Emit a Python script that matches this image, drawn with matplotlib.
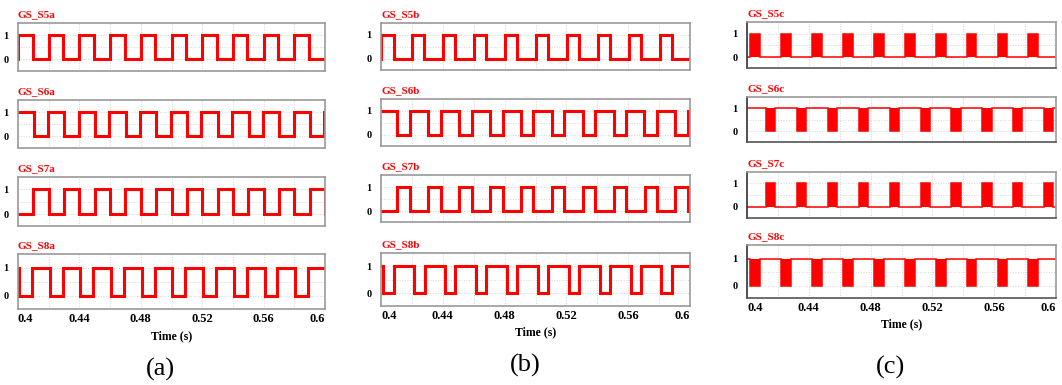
import numpy as np
import matplotlib
matplotlib.use("Agg")
import matplotlib.pyplot as plt

plt.rcParams['font.family'] = ['Liberation Serif', 'DejaVu Serif']

# one switching period every 0.02 s between 0.4 s and 0.6 s
cycle_starts = [0.40, 0.42, 0.44, 0.46, 0.48, 0.50, 0.52, 0.54, 0.56, 0.58, 0.60]

# signal names, idle level and the window (offset from cycle start, s) where the level flips
names_a = ["GS_S5a", "GS_S6a", "GS_S7a", "GS_S8a"]
base_a = [0, 1, 0, 1]
flip_on_a = [0.0000, 0.0102, 0.0100, 0.0006]
flip_off_a = [0.0095, 0.0195, 0.0200, 0.0090]

names_b = ["GS_S5b", "GS_S6b", "GS_S7b", "GS_S8b"]
base_b = [0, 1, 0, 1]
flip_on_b = [0.0003, 0.0105, 0.0106, 0.0015]
flip_off_b = [0.0081, 0.0187, 0.0187, 0.0082]

names_c = ["GS_S5c", "GS_S6c", "GS_S7c", "GS_S8c"]
base_c = [0, 1, 0, 1]
flip_on_c = [0.0022, 0.0123, 0.0123, 0.0022]
flip_off_c = [0.0085, 0.0183, 0.0183, 0.0085]

x_ticks = [0.4, 0.44, 0.48, 0.52, 0.56, 0.6]
x_tick_labels = ["0.4", "0.44", "0.48", "0.52", "0.56", "0.6"]
x_grid = [0.42, 0.46, 0.50, 0.54, 0.58]
y_ticks = [0, 1]
y_tick_labels = ["0", "1"]
panel_labels = ["(a)", "(b)", "(c)"]

T0, T1 = 0.4, 0.6


def wave(base, on, off):
    t = [T0]
    y = [base]
    for c in cycle_starts:
        s = max(c + on, T0)
        e = min(c + off, T1)
        if s < e:
            t += [s, s, e, e]
            y += [base, 1 - base, 1 - base, base]
    t.append(T1)
    y.append(base)
    return np.array(t), np.array(y)


W, H = 1062, 385
fig = plt.figure(figsize=(W / 100, H / 100), dpi=100)


def box(left, top, right, bottom):
    return [left / W, 1 - bottom / H, (right - left) / W, (bottom - top) / H]


cols = [
    dict(names=names_a, base=base_a, on=flip_on_a, off=flip_off_a, lr=(18, 325),
         rows=[(23, 70.7), (100, 147.7), (176.7, 225.7), (254, 309)], filled=False,
         time_y=336, lab_y=369),
    dict(names=names_b, base=base_b, on=flip_on_b, off=flip_off_b, lr=(381, 690),
         rows=[(22.7, 70), (99, 146), (175, 222.3), (252.7, 306)], filled=False,
         time_y=332, lab_y=365),
    dict(names=names_c, base=base_c, on=flip_on_c, off=flip_off_c, lr=(747, 1056),
         rows=[(21.7, 68.3), (96.7, 142.3), (171.7, 217.7), (245, 298.3)], filled=True,
         time_y=324, lab_y=367),
]

for ci, col in enumerate(cols):
    for ri in range(4):
        top, bottom = col['rows'][ri]
        ax = fig.add_axes(box(col['lr'][0], top, col['lr'][1], bottom))
        t, y = wave(col['base'][ri], col['on'][ri], col['off'][ri])
        if col['filled']:
            ax.fill_between(t, col['base'][ri], y, color='#ff0000', lw=0)
            ax.plot(t, y, color='#ff0000', lw=1.1, solid_joinstyle='miter')
        else:
            ax.plot(t, y, color='#ff0000', lw=2.2, solid_joinstyle='miter')
        ax.set_xlim(T0, T1)
        ax.set_ylim(-0.47, 1.5)
        ax.set_yticks(y_ticks)
        ax.set_yticklabels(y_tick_labels, fontweight='bold', fontsize=7.5)
        ax.set_yticks([0.5], minor=True)
        ax.set_xticks(x_ticks)
        ax.set_xticks(x_grid, minor=True)
        ax.tick_params(which='both', length=0)
        ax.tick_params(axis='y', pad=7)
        ax.grid(True, which='both', color='#d4d4d4', ls=':', lw=0.7)
        ax.set_axisbelow(True)
        for s in ax.spines.values():
            s.set_color('#9a9a9a')
            s.set_linewidth(1.2)
        if col['filled']:
            ax.spines['left'].set_color('#333333')
            ax.spines['bottom'].set_color('#555555')
        ax.set_title(col['names'][ri], loc='left', pad=4, color='#ff0000',
                     fontweight='bold', fontsize=8)
        if ri == 3:
            labs = ax.set_xticklabels(x_tick_labels, fontweight='bold', fontsize=9)
            labs[0].set_ha('left')
            labs[-1].set_ha('right')
            ax.tick_params(axis='x', pad=3)
        else:
            ax.set_xticklabels([])
    xc = (col['lr'][0] + col['lr'][1]) / 2 / W
    fig.text(xc, 1 - col['time_y'] / H, "Time (s)", ha='center', va='center',
             fontweight='bold', fontsize=8.5)
    fig.text(xc - 0.01, 1 - col['lab_y'] / H,
             panel_labels[ci], ha='center', va='center', fontsize=19)

fig.savefig("out.png", dpi=100)
